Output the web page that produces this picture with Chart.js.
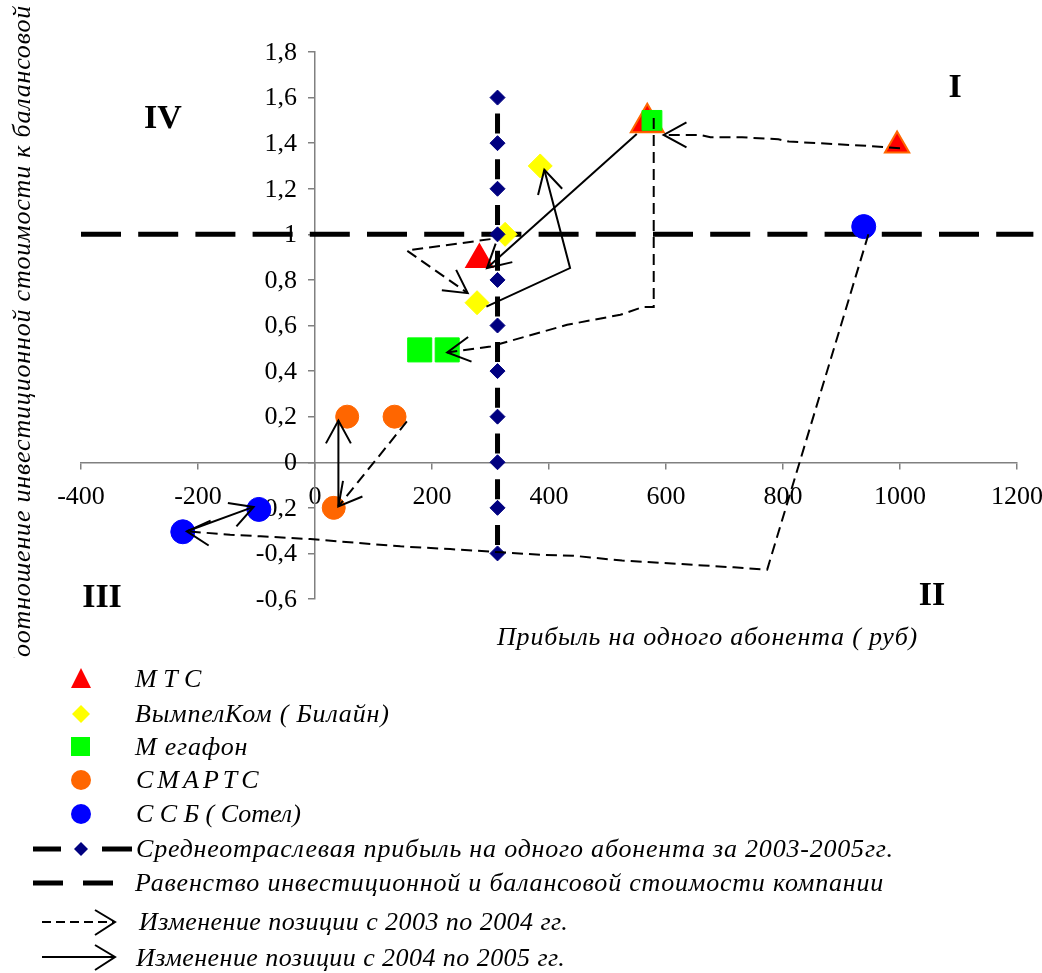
<!DOCTYPE html>
<html>
<head>
<meta charset="utf-8">
<script src="https://cdn.jsdelivr.net/npm/chart.js@4.4.1/dist/chart.umd.min.js"></script>
<style>
  body { margin: 0; background: #fff; }
  #wrap { position: relative; width: 1042px; height: 973px; overflow: hidden; font-family: 'Liberation Serif', 'Times New Roman', serif; }
  #chart { position: absolute; left: 0; top: 0; }
  .lbl { position: absolute; white-space: nowrap; font-style: italic; font-size: 26px; letter-spacing: 0.8px; line-height: 1; transform: translateY(-50%); }
  .quad { position: absolute; font-weight: bold; font-size: 34px; line-height: 1; transform: translate(-50%, -50%); }
  #yclip { position: absolute; left: 0; top: 0; width: 50px; height: 658px; overflow: hidden; }
  #ytitle { position: absolute; left: 22px; top: 5px; white-space: nowrap; font-style: italic; font-size: 26px; letter-spacing: 0.8px; line-height: 1;
            transform-origin: 0 0; transform: rotate(-90deg) translate(-100%, -50%); }
  #legendSymbols { position: absolute; left: 0; top: 640px; }
</style>
</head>
<body>
<div id="wrap">
  <canvas id="chart" width="1042" height="973"></canvas>
  <div id="yclip"><span id="ytitle">Соотношение инвестиционной стоимости к балансовой</span></div>
  <div class="lbl" style="left:497px; top:637px;">Прибыль на одного абонента ( руб)</div>
  <div class="quad" style="left:163px; top:117px;">IV</div>
  <div class="quad" style="left:955px; top:86px;">I</div>
  <div class="quad" style="left:102px; top:596px;">III</div>
  <div class="quad" style="left:932px; top:594px;">II</div>
  <svg id="legendSymbols" width="140" height="333">
    <g transform="translate(0,-640)">
      <polygon points="71,688 81,668 91,688" fill="#FF0000"/>
      <polygon points="81,705 90,714 81,723 72,714" fill="#FFFF00"/>
      <rect x="71" y="737" width="19" height="19" fill="#00FF00"/>
      <circle cx="81" cy="780" r="10" fill="#FF6600"/>
      <circle cx="81" cy="814" r="10" fill="#0000FF"/>
      <line x1="33" y1="849" x2="61" y2="849" stroke="#000" stroke-width="5"/>
      <polygon points="81,842 88,849 81,856 74,849" fill="#000080"/>
      <line x1="102" y1="849" x2="132" y2="849" stroke="#000" stroke-width="5"/>
      <line x1="33" y1="883" x2="63" y2="883" stroke="#000" stroke-width="5"/>
      <line x1="83" y1="883" x2="113" y2="883" stroke="#000" stroke-width="5"/>
      <line x1="42" y1="922" x2="114" y2="922" stroke="#000" stroke-width="2" stroke-dasharray="9,5"/>
      <polyline points="95,910 115,922 95,935" fill="none" stroke="#000" stroke-width="2"/>
      <line x1="42" y1="957" x2="114" y2="957" stroke="#000" stroke-width="2"/>
      <polyline points="95,945 115,957 95,970" fill="none" stroke="#000" stroke-width="2"/>
    </g>
  </svg>
</div>
<script>
// --- data ---
const mtsX = [995, 568, 281];
const mtsY = [1.39, 1.49, 0.89];
const beelineX = [385, 325, 277];
const beelineY = [1.30, 1.00, 0.70];
const megafonX = [576, 179, 226];
const megafonY = [1.50, 0.493, 0.493];
const smartsX = [136, 32, 55];
const smartsY = [0.20, -0.20, 0.20];
const ssbX = [938, -226, -96];
const ssbY = [1.034, -0.305, -0.207];

// среднеотраслевая прибыль
const avgProfit = 312;
const avgLineY = [1.6, 1.4, 1.2, 1.0, 0.8, 0.6, 0.4, 0.2, 0, -0.2, -0.4];
// равенство стоимостей
const equalityX = [-400, 1228];
const equalityY = [1, 1];

// arrow paths (2003->2004 dashed, 2004->2005 solid)
const mtsMove1X = [1000, 944, 810, 792, 730, 676, 659, 596];
const mtsMove1Y = [1.378, 1.388, 1.407, 1.417, 1.426, 1.426, 1.436, 1.436];
const mtsMove2X = [550, 294];
const mtsMove2Y = [1.44, 0.852];
const beeMove1X = [300, 157, 261];
const beeMove1Y = [0.979, 0.929, 0.742];
const beeMove2X = [293, 436, 392];
const beeMove2Y = [0.683, 0.852, 1.283];
const megMove1X = [579, 579, 560, 522, 431, 300, 226];
const megMove1Y = [1.51, 0.681, 0.681, 0.647, 0.603, 0.508, 0.482];
const smartsMove1X = [157, 40];
const smartsMove1Y = [0.179, -0.194];
const smartsMove2X = [40, 40];
const smartsMove2Y = [-0.194, 0.183];
const ssbMove1X = [946, 773, 716, 664, 596, 525, 471, 442, 385, 231, 146, 38, -8, -93, -145, -219];
const ssbMove1Y = [1.0, -0.471, -0.461, -0.453, -0.442, -0.431, -0.418, -0.41, -0.406, -0.381, -0.369, -0.347, -0.337, -0.325, -0.318, -0.303];
const ssbMove2X = [-219, -105];
const ssbMove2Y = [-0.303, -0.196];

const legendLabels = [
  'М Т С',
  'ВымпелКом ( Билайн)',
  'М егафон',
  'СМАРТС',
  'С С Б ( Сотел)',
  'Среднеотраслевая прибыль на одного абонента за 2003-2005гг.',
  'Равенство инвестиционной и балансовой стоимости компании',
  'Изменение позиции с 2003 по 2004 гг.',
  'Изменение позиции с 2004 по 2005 гг.'
];
const legendRows = [679, 714, 747, 780, 814, 849, 883, 922, 958];
const legendLeft = [135, 135, 135, 136, 136, 136, 135, 139, 136];
const legendSpacing = ['0px', '0.8px', '0.8px', '4px', '0px', '0.8px', '0.8px', '0.45px', '0.45px'];

const pts = (xs, ys) => xs.map((x, i) => ({x: x, y: ys[i]}));

function arrowSet(xs, ys, dashed) {
    return {
        data: pts(xs, ys),
        showLine: true,
        arrow: true,
        borderColor: '#000',
        borderWidth: 2,
        borderDash: dashed ? [11, 6] : [],
        pointRadius: 0,
        tension: 0,
        order: 0
    };
}

const arrowHeads = {
    id: 'arrowHeads',
    afterDatasetsDraw(chart) {
        const ctx = chart.ctx;
        chart.data.datasets.forEach((ds, i) => {
            if (!ds.arrow) return;
            const els = chart.getDatasetMeta(i).data;
            const a = els[els.length - 2], b = els[els.length - 1];
            const ang = Math.atan2(b.y - a.y, b.x - a.x);
            const len = 26, spread = 0.5;
            ctx.save();
            ctx.strokeStyle = '#000';
            ctx.lineWidth = 2;
            ctx.setLineDash([]);
            ctx.beginPath();
            ctx.moveTo(b.x - len * Math.cos(ang - spread), b.y - len * Math.sin(ang - spread));
            ctx.lineTo(b.x, b.y);
            ctx.lineTo(b.x - len * Math.cos(ang + spread), b.y - len * Math.sin(ang + spread));
            ctx.stroke();
            ctx.restore();
        });
    }
};

function fmtY(v) {
    if (Math.abs(v) < 1e-9) return '0';
    if (Math.abs(v - Math.round(v)) < 1e-9) return String(Math.round(v));
    return v.toFixed(1).replace('.', ',');
}

// y labels sit left of the axis line placed at x = 0
const yTickLabels = {
    id: 'yTickLabels',
    beforeDatasetsDraw(chart) {
        const xs = chart.scales.x, ys = chart.scales.y;
        const ctx = chart.ctx;
        const x0 = xs.getPixelForValue(0);
        ctx.save();
        ctx.font = '26px "Liberation Serif"';
        ctx.fillStyle = '#000';
        ctx.textAlign = 'right';
        ctx.textBaseline = 'middle';
        ys.ticks.forEach(t => ctx.fillText(fmtY(t.value), x0 - 18, ys.getPixelForValue(t.value) + 1));
        ctx.restore();
    }
};

const axisFont = { family: 'Liberation Serif', size: 26 };

new Chart(document.getElementById('chart').getContext('2d'), {
    type: 'scatter',
    data: {
        datasets: [
            arrowSet(mtsMove1X, mtsMove1Y, true),
            arrowSet(mtsMove2X, mtsMove2Y, false),
            arrowSet(beeMove1X, beeMove1Y, true),
            arrowSet(beeMove2X, beeMove2Y, false),
            arrowSet(megMove1X, megMove1Y, true),
            arrowSet(smartsMove1X, smartsMove1Y, true),
            arrowSet(smartsMove2X, smartsMove2Y, false),
            arrowSet(ssbMove1X, ssbMove1Y, true),
            arrowSet(ssbMove2X, ssbMove2Y, false),
            {
                label: 'Среднеотраслевая прибыль',
                data: avgLineY.map(y => ({x: avgProfit, y: y})),
                showLine: true,
                borderColor: '#000',
                borderWidth: 5,
                borderDash: [20, 25.7],
                borderDashOffset: 29.7,
                pointStyle: 'rectRot',
                pointRadius: 7.5,
                pointBackgroundColor: '#000080',
                pointBorderColor: '#000080',
                pointBorderWidth: 1,
                order: 1
            },
            {
                label: 'Мегафон',
                data: pts(megafonX, megafonY),
                pointStyle: 'rect',
                pointRadius: [14, 17, 17],
                pointBackgroundColor: '#00FF00',
                pointBorderColor: '#00FF00',
                pointBorderWidth: 1,
                order: 2
            },
            {
                label: 'МТС',
                data: pts(mtsX, mtsY),
                pointStyle: 'triangle',
                pointRadius: [14, 19, 15],
                pointBackgroundColor: '#FF0000',
                pointBorderColor: ['#FF6600', '#FF6600', '#FF0000'],
                pointBorderWidth: 2,
                order: 3
            },
            {
                label: 'ВымпелКом',
                data: pts(beelineX, beelineY),
                pointStyle: 'rectRot',
                pointRadius: 12,
                pointBackgroundColor: '#FFFF00',
                pointBorderColor: '#FFFF00',
                pointBorderWidth: 1,
                order: 4
            },
            {
                label: 'СМАРТС',
                data: pts(smartsX, smartsY),
                pointStyle: 'circle',
                pointRadius: 11.5,
                pointBackgroundColor: '#FF6600',
                pointBorderColor: '#FF6600',
                pointBorderWidth: 1,
                order: 5
            },
            {
                label: 'ССБ',
                data: pts(ssbX, ssbY),
                pointStyle: 'circle',
                pointRadius: 12,
                pointBackgroundColor: '#0000FF',
                pointBorderColor: '#0000FF',
                pointBorderWidth: 1,
                order: 6
            },
            {
                label: 'Равенство',
                data: pts(equalityX, equalityY),
                showLine: true,
                clip: false,
                borderColor: '#000',
                borderWidth: 5,
                borderDash: [40, 17.2],
                pointRadius: 0,
                order: 7
            }
        ]
    },
    options: {
        responsive: false,
        animation: false,
        events: [],
        layout: { padding: { left: 81, top: 52, right: 25, bottom: 374 } },
        plugins: { legend: { display: false }, tooltip: { enabled: false } },
        scales: {
            x: {
                type: 'linear',
                position: { y: 0 },
                min: -400,
                max: 1200,
                afterFit: s => { s.paddingLeft = 0; s.paddingRight = 0; },
                ticks: { stepSize: 200, color: '#000', font: axisFont, padding: 13, maxRotation: 0, callback: v => String(v) },
                grid: { drawOnChartArea: false, tickLength: 6, color: '#808080', lineWidth: 1.5 },
                border: { color: '#808080', width: 1.5 }
            },
            y: {
                type: 'linear',
                position: { x: 0 },
                min: -0.6,
                max: 1.8,
                afterFit: s => { s.paddingTop = 0; s.paddingBottom = 0; },
                ticks: { stepSize: 0.2, display: false },
                grid: { drawOnChartArea: false, tickLength: 6, color: '#808080', lineWidth: 1.5 },
                border: { color: '#808080', width: 1.5 }
            }
        }
    },
    plugins: [arrowHeads, yTickLabels]
});

// legend text
const wrap = document.getElementById('wrap');
legendLabels.forEach((t, i) => {
    const d = document.createElement('div');
    d.className = 'lbl';
    d.style.left = legendLeft[i] + 'px';
    d.style.top = legendRows[i] + 'px';
    d.style.letterSpacing = legendSpacing[i];
    d.textContent = t;
    wrap.appendChild(d);
});
</script>
</body>
</html>
